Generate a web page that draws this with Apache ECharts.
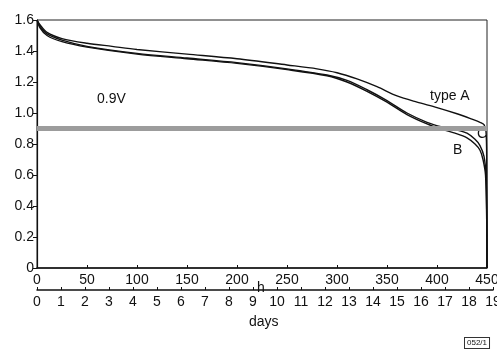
<!DOCTYPE html>
<html>
<head>
<meta charset="utf-8">
<script src="https://cdn.jsdelivr.net/npm/echarts@6/dist/echarts.min.js"></script>
<style>
  html, body { margin: 0; padding: 0; background: #fff; }
  #chart { width: 497px; height: 354px; }
</style>
</head>
<body>
<div id="chart"></div>
<script>
// hours -> volts
const hoursA = [0, 3, 10, 25, 50, 75, 100, 150, 200, 250, 280, 300, 320, 340, 360, 380, 400, 420, 435, 443, 447, 449, 449.7, 450]
const voltsA = [1.60, 1.57, 1.52, 1.48, 1.45, 1.43, 1.41, 1.38, 1.35, 1.31, 1.285, 1.26, 1.22, 1.17, 1.11, 1.07, 1.035, 0.995, 0.96, 0.94, 0.925, 0.88, 0.7, 0]

const hoursB = [0, 3, 10, 25, 50, 100, 150, 200, 250, 290, 310, 330, 350, 370, 390, 405, 418, 430, 438, 443, 446, 448.5, 449.7, 450]
const voltsB = [1.60, 1.55, 1.50, 1.46, 1.425, 1.38, 1.35, 1.32, 1.28, 1.24, 1.20, 1.14, 1.07, 0.99, 0.93, 0.895, 0.87, 0.84, 0.80, 0.76, 0.70, 0.6, 0.3, 0]

const hoursC = [0, 3, 10, 25, 50, 100, 150, 200, 250, 290, 310, 330, 350, 370, 390, 405, 420, 430, 438, 443, 447, 449, 449.8, 450]
const voltsC = [1.60, 1.56, 1.51, 1.47, 1.43, 1.385, 1.355, 1.325, 1.285, 1.245, 1.21, 1.15, 1.08, 1.0, 0.94, 0.91, 0.89, 0.87, 0.83, 0.79, 0.72, 0.6, 0.3, 0]

const cutoffVolt = 0.9
const hourTicks = [0, 50, 100, 150, 200, 250, 300, 350, 400, 450]
const dayTicks = [0, 1, 2, 3, 4, 5, 6, 7, 8, 9, 10, 11, 12, 13, 14, 15, 16, 17, 18, 19]

const pairs = (xs, ys) => xs.map((x, i) => [x, ys[i]])
const font = 'Liberation Sans, Arial, sans-serif'

const curve = (name, xs, ys) => ({
  name,
  type: 'line',
  xAxisIndex: 0,
  yAxisIndex: 0,
  data: pairs(xs, ys),
  showSymbol: false,
  smooth: 0.3,
  lineStyle: { color: '#111', width: 1.4 },
  z: 3
})

const myChart = echarts.init(document.getElementById('chart'))
myChart.setOption({
  animation: false,
  backgroundColor: '#fff',
  grid: [
    { left: 37, right: 10, top: 20, bottom: 86, outerBoundsMode: 'none', containLabel: false,
      show: true, borderColor: '#222', borderWidth: 1 },
    { left: 37, right: 4, top: 270, bottom: 64, outerBoundsMode: 'none', containLabel: false }
  ],
  xAxis: [
    {
      type: 'value',
      gridIndex: 0,
      min: hourTicks[0],
      max: hourTicks[hourTicks.length - 1],
      interval: 50,
      splitLine: { show: false },
      axisLine: { lineStyle: { color: '#111', width: 1.5 } },
      axisTick: { inside: true, length: 3, lineStyle: { color: '#111' } },
      axisLabel: { color: '#111', fontSize: 14, fontFamily: font, margin: 5 }
    },
    {
      type: 'value',
      gridIndex: 1,
      min: dayTicks[0],
      max: dayTicks[dayTicks.length - 1],
      interval: 1,
      splitLine: { show: false },
      axisLine: { lineStyle: { color: '#111', width: 1.5 } },
      axisTick: { inside: true, length: 3, lineStyle: { color: '#111' } },
      axisLabel: { color: '#111', fontSize: 14, fontFamily: font, margin: 5, showMaxLabel: true }
    }
  ],
  yAxis: [
    {
      type: 'value',
      gridIndex: 0,
      min: 0,
      max: 1.6,
      interval: 0.2,
      splitLine: { show: false },
      axisLine: { lineStyle: { color: '#111', width: 1.2 } },
      axisTick: { length: 4, lineStyle: { color: '#111' } },
      axisLabel: {
        color: '#111', fontSize: 14, fontFamily: font, margin: 3,
        formatter: v => (v === 0 ? '0' : v.toFixed(1))
      }
    },
    { type: 'value', gridIndex: 1, min: 0, max: 1, show: false }
  ],
  series: [
    curve('type A', hoursA, voltsA),
    curve('B', hoursB, voltsB),
    curve('C', hoursC, voltsC),
    {
      name: 'cutoff',
      type: 'line',
      xAxisIndex: 0,
      yAxisIndex: 0,
      data: [],
      markLine: {
        silent: true,
        symbol: 'none',
        label: { show: false },
        lineStyle: { color: '#9c9c9c', width: 5, type: 'solid' },
        data: [{ yAxis: cutoffVolt }]
      },
      z: 2
    },
    { type: 'line', xAxisIndex: 1, yAxisIndex: 1, data: [] }
  ],
  graphic: [
    { type: 'text', left: 97, top: 92, style: { text: '0.9V', font: '14px ' + font, fill: '#111' } },
    { type: 'text', left: 430, top: 89, style: { text: 'type A', font: '14px ' + font, fill: '#111' } },
    { type: 'text', left: 477, top: 127, style: { text: 'C', font: '14px ' + font, fill: '#111' } },
    { type: 'text', left: 453, top: 143, style: { text: 'B', font: '14px ' + font, fill: '#111' } },
    { type: 'text', left: 257, top: 281, style: { text: 'h', font: '14px ' + font, fill: '#111' } },
    { type: 'text', left: 249, top: 315, style: { text: 'days', font: '14px ' + font, fill: '#111' } },
    {
      type: 'text', left: 464, top: 337,
      style: {
        text: '052/1', font: '8px ' + font, fill: '#111',
        backgroundColor: '#fff', borderColor: '#333', borderWidth: 1, padding: [1, 2]
      }
    }
  ]
})
</script>
</body>
</html>
